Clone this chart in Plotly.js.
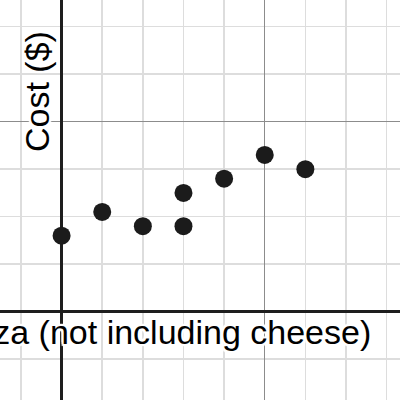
<!DOCTYPE html>
<html>
<head>
<meta charset="utf-8">
<script src="https://cdn.plot.ly/plotly-3.0.1.min.js"></script>
<style>html,body{margin:0;padding:0;background:#fff;}#chart{width:400px;height:400px;}</style>
</head>
<body>
<div id="chart"></div>
<script>
var toppings = [0, 1, 2, 3, 3, 4, 5, 6];
var cost = [8, 10.5, 9, 9, 12.5, 14, 16.5, 15];
var xLabel = "Number of toppings on a pizza (not including cheese)";
var yLabel = "Cost ($)";

var halo = "2px 0 1px #fff, -2px 0 1px #fff, 0 2px 1px #fff, 0 -2px 1px #fff, 2px 2px 1px #fff, -2px -2px 1px #fff, 2px -2px 1px #fff, -2px 2px 1px #fff";

var trace = {
  x: toppings, y: cost, type: 'scatter', mode: 'markers',
  marker: {size: 18, color: '#1b1b1b'},
  hoverinfo: 'none', cliponaxis: false
};

var layout = {
  width: 400, height: 400,
  margin: {l: 0, r: 0, t: 0, b: 0},
  paper_bgcolor: '#fff', plot_bgcolor: '#fff',
  showlegend: false,
  xaxis: {
    range: [-1.516, 8.329], tick0: 0, dtick: 5,
    showgrid: true, gridcolor: '#8c8c8c', gridwidth: 1.5,
    minor: {tick0: 0, dtick: 1, showgrid: true, gridcolor: '#dddddd', gridwidth: 1.5},
    zeroline: true, zerolinecolor: '#1e1e1e', zerolinewidth: 3,
    showticklabels: false, ticks: '', showline: false, fixedrange: true
  },
  yaxis: {
    range: [-9.29, 32.80], tick0: 0, dtick: 20,
    showgrid: true, gridcolor: '#8c8c8c', gridwidth: 1.5,
    minor: {tick0: 0, dtick: 5, showgrid: true, gridcolor: '#dddddd', gridwidth: 1.5},
    zeroline: true, zerolinecolor: '#1e1e1e', zerolinewidth: 3,
    showticklabels: false, ticks: '', showline: false, fixedrange: true
  },
  annotations: [
    {
      text: xLabel, xref: 'paper', yref: 'paper',
      x: 373/400, y: 1 - 332/400, xanchor: 'right', yanchor: 'middle',
      showarrow: false,
      font: {family: 'Liberation Sans, Arial, sans-serif', size: 34, color: '#000', shadow: halo}
    },
    {
      text: yLabel, xref: 'paper', yref: 'paper',
      x: 37/400, y: 1 - 92/400, xanchor: 'center', yanchor: 'middle',
      textangle: -90, showarrow: false,
      font: {family: 'Liberation Sans, Arial, sans-serif', size: 34, color: '#000', shadow: halo}
    }
  ]
};

Plotly.newPlot('chart', [trace], layout, {staticPlot: true, displayModeBar: false});
</script>
</body>
</html>
